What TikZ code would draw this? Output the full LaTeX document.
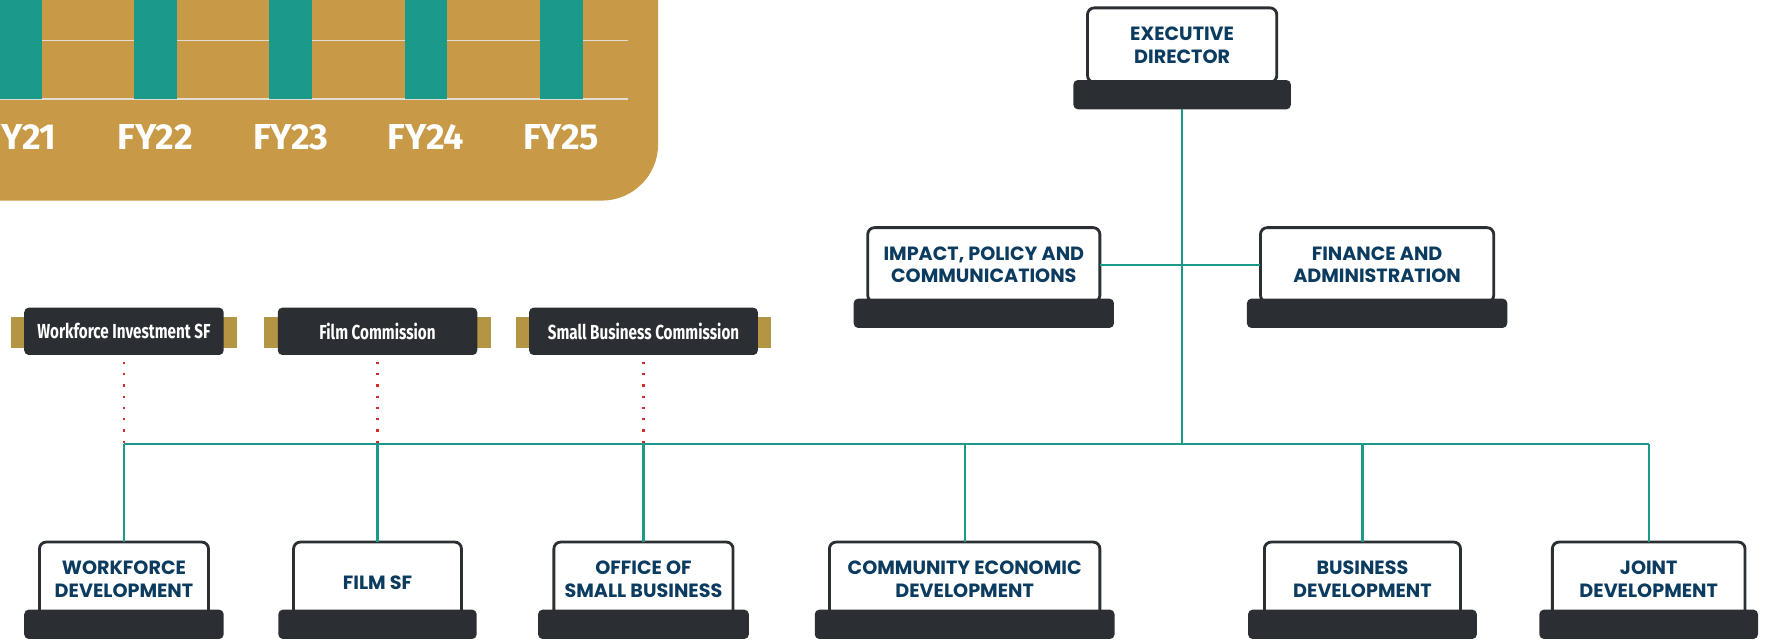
\documentclass[tikz,border=0pt]{standalone}
\usepackage{fontspec}
\setmainfont{Poppins}
\newfontfamily\yearfont{Fira Sans}
\newfontfamily\boardfont[FakeStretch=0.75]{Fira Sans}
\usetikzlibrary{positioning}

\definecolor{panel}{HTML}{C89A47}
\definecolor{teal}{HTML}{1B9A8A}
\definecolor{gridline}{HTML}{E2DDD2}
\definecolor{boardgold}{HTML}{B39544}
\definecolor{dark}{HTML}{2B2F33}
\definecolor{navy}{HTML}{0B3B5F}
\definecolor{dotred}{HTML}{D42A2A}

\tikzset{
  unit/.style={draw=dark, line width=2.5pt, fill=white, rounded corners=6pt,
    inner sep=0pt, outer sep=0pt, minimum height=66pt, align=center,
    text=navy, font=\bfseries\fontsize{17}{20}\selectfont,
    execute at begin node={\rule{0pt}{18pt}}},
  unitbase/.style={fill=dark, rounded corners=4pt, inner sep=0pt, outer sep=0pt,
    minimum height=26pt},
  board/.style={fill=dark, rounded corners=4pt, inner sep=0pt, outer sep=0pt,
    minimum height=42pt, text=white, font=\boardfont\bfseries\fontsize{18}{20}\selectfont},
  boardbar/.style={fill=boardgold, inner sep=0pt, outer sep=0pt, minimum height=28pt},
  year/.style={text=white, font=\yearfont\bfseries\fontsize{32}{34}\selectfont},
  link/.style={draw=teal, line width=2pt},
  dotlink/.style={draw=dotred, line width=2pt, dash pattern=on 2pt off 8pt,
    shorten <=6pt}
}

\begin{document}
\begin{tikzpicture}[x=1pt,y=-1pt]
\useasboundingbox (0,0) rectangle (1568,568);

% funding chart, cut by the page
\fill[panel, rounded corners=50pt] (-60,-60) rectangle (584,178);
\foreach \y in {36,88}
  \draw[gridline, line width=1.5pt] (0,\y) -- (557,\y);
\foreach \x/\yr in {18/21,138/22,258/23,378/24,498/25} {
  \fill[teal] (\x-19,-5) rectangle (\x+19,88);
  \node (fy\yr) at (\x,122) [year] {FY\yr};
}

% commissions
\foreach \n/\x/\w/\t in {wisf/110/177/Workforce Investment SF,
    fc/335/177/Film Commission, sbc/571/203/Small Business Commission} {
  \node (\n bar) at (\x,295) [boardbar, minimum width={\w pt+24pt}] {};
  \node (\n) at (\x,294) [board, minimum width=\w pt] {\t};
}

% top
\node (ed) at (1049,40) [unit, minimum width=168pt] {EXECUTIVE\\DIRECTOR};
\node (edbase) [unitbase, minimum width=193pt, below=-2pt of ed] {};
\node (ipc) at (873,235) [unit, minimum width=206pt] {IMPACT, POLICY AND\\COMMUNICATIONS};
\node (ipcbase) [unitbase, minimum width=231pt, below=-3pt of ipc] {};
\node (fa) at (1222,235) [unit, minimum width=207pt] {FINANCE AND\\ADMINISTRATION};
\node (fabase) [unitbase, minimum width=231pt, below=-3pt of fa] {};

% divisions
\node (wd) at (110,514) [unit, minimum width=150pt] {WORKFORCE\\DEVELOPMENT};
\node (wdbase) [unitbase, minimum width=177pt, below=-6pt of wd] {};
\node (film) at (335,514) [unit, minimum width=149pt] {FILM SF};
\node (filmbase) [unitbase, minimum width=176pt, below=-6pt of film] {};
\node (osb) at (571,514) [unit, minimum width=159pt] {OFFICE OF\\SMALL BUSINESS};
\node (osbbase) [unitbase, minimum width=187pt, below=-6pt of osb] {};
\node (ced) at (856,514) [unit, minimum width=240pt] {COMMUNITY ECONOMIC\\DEVELOPMENT};
\node (cedbase) [unitbase, minimum width=266pt, below=-6pt of ced] {};
\node (bd) at (1209,514) [unit, minimum width=174pt] {BUSINESS\\DEVELOPMENT};
\node (bdbase) [unitbase, minimum width=203pt, below=-6pt of bd] {};
\node (jd) at (1463,514) [unit, minimum width=171pt] {JOINT\\DEVELOPMENT};
\node (jdbase) [unitbase, minimum width=194pt, below=-6pt of jd] {};

% lines
\coordinate (hub) at (1049,394);
\draw[link] (edbase) -- (hub);
\draw[link] (ipc.east) -- (fa.west);
\draw[link] (wd.north |- hub) -- (jd.north |- hub);
\foreach \n in {wd,film,osb,ced,bd,jd}
  \draw[link] (\n.north |- hub) -- (\n);
\foreach \n in {wisf,fc,sbc}
  \draw[dotlink] (\n.south) -- (\n.south |- hub);
\end{tikzpicture}
\end{document}
